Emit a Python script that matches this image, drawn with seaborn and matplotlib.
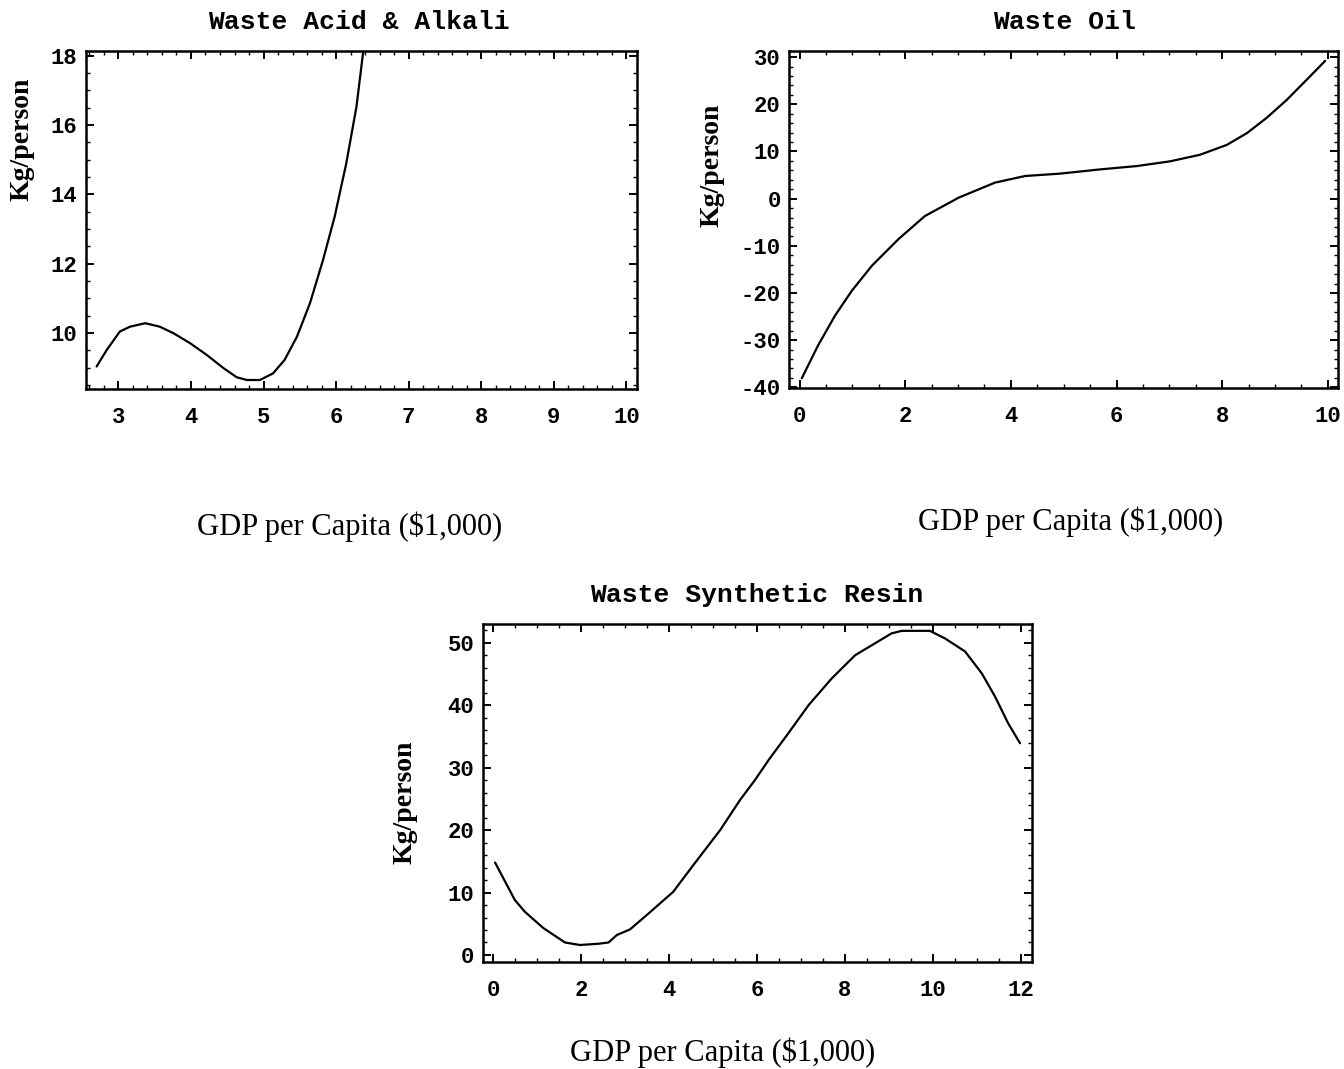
import numpy as np
import pandas as pd
import matplotlib
matplotlib.use("Agg")
import matplotlib.pyplot as plt
from matplotlib.ticker import MultipleLocator, AutoMinorLocator
import seaborn as sns

# values (GDP per capita in $1,000 -> kg/person)
acid_x = [2.70, 2.84, 3.02, 3.16, 3.37, 3.57, 3.76, 3.99, 4.22, 4.45, 4.63, 4.77,
          4.95, 5.13, 5.29, 5.46, 5.64, 5.82, 5.98, 6.14, 6.28, 6.37, 6.42]
acid_y = [9.03, 9.51, 10.04, 10.18, 10.28, 10.18, 9.99, 9.70, 9.36, 8.98, 8.72, 8.64,
          8.64, 8.83, 9.22, 9.89, 10.86, 12.11, 13.36, 14.90, 16.53, 18.07, 18.60]

oil_x = [0.04, 0.35, 0.67, 0.99, 1.37, 1.87, 2.37, 3.01, 3.70, 4.27, 4.93, 5.69,
         6.38, 7.01, 7.58, 8.09, 8.47, 8.84, 9.22, 9.60, 9.95]
oil_y = [-38.1, -31.1, -24.8, -19.5, -14.2, -8.6, -3.7, 0.2, 3.4, 4.8, 5.3, 6.2,
         6.9, 7.9, 9.3, 11.4, 13.9, 17.1, 20.9, 25.2, 29.2]

resin_x = [0.04, 0.49, 0.72, 1.14, 1.63, 1.97, 2.39, 2.62, 2.81, 3.11, 3.49, 4.09,
           4.55, 5.16, 5.61, 5.95, 6.26, 6.71, 7.17, 7.70, 8.23, 8.61, 9.06, 9.29,
           9.93, 10.27, 10.73, 11.11, 11.41, 11.71, 11.98]
resin_y = [14.8, 8.8, 6.9, 4.3, 2.0, 1.6, 1.8, 2.0, 3.2, 4.1, 6.4, 10.1,
           14.4, 20.0, 24.8, 28.0, 31.2, 35.5, 40.0, 44.3, 48.0, 49.6, 51.5, 51.9,
           51.9, 50.7, 48.6, 45.1, 41.4, 37.1, 33.9]

titles = ["Waste Acid & Alkali", "Waste Oil", "Waste Synthetic Resin"]
xlab = "GDP per Capita ($1,000)"
ylab = "Kg/person"

sns.set_style("ticks")
plt.rcParams["axes.unicode_minus"] = False
plt.rcParams["font.family"] = ["Liberation Mono", "DejaVu Sans Mono"]
plt.rcParams["text.color"] = "black"
plt.rcParams["axes.labelcolor"] = "black"
plt.rcParams["xtick.color"] = "black"
plt.rcParams["ytick.color"] = "black"

fig = plt.figure(figsize=(13.44, 10.69), dpi=100)

panels = [
    # data, axes rect, xlim, ylim, x step, y step, title pos, xlabel pos, ylabel pos
    (acid_x, acid_y, [0.0640, 0.6361, 0.4100, 0.3165], (2.554, 10.146), (8.38, 18.15), 1, 2,
     (0.495, 1.085), (0.479, -0.408), (-0.116, 0.739)),
    (oil_x, oil_y, [0.5871, 0.6368, 0.4087, 0.3155], (-0.2, 10.2), (-40.2, 31.3), 2, 10,
     (0.501, 1.086), (0.512, -0.396), (-0.140, 0.662)),
    (resin_x, resin_y, [0.3592, 0.1004, 0.4089, 0.3159], (-0.24, 12.26), (-1.07, 53.0), 2, 10,
     (0.499, 1.086), (0.437, -0.270), (-0.141, 0.473)),
]

for i, (xs, ys, rect, xl, yl, xstep, ystep, tpos, xpos, ypos) in enumerate(panels):
    ax = fig.add_axes(rect)
    df = pd.DataFrame({"gdp": xs, "kg": ys})
    sns.lineplot(data=df, x="gdp", y="kg", ax=ax, color="black", lw=1.6,
                 estimator=None, sort=False)
    ax.set_xlim(*xl)
    ax.set_ylim(*yl)
    ax.xaxis.set_major_locator(MultipleLocator(xstep))
    ax.yaxis.set_major_locator(MultipleLocator(ystep))
    ax.xaxis.set_minor_locator(AutoMinorLocator())
    ax.yaxis.set_minor_locator(AutoMinorLocator())
    ax.tick_params(which="both", direction="in", top=True, right=True, color="black")
    ax.tick_params(which="major", length=6, width=1.4)
    ax.tick_params(which="minor", length=3, width=1.0)
    ax.tick_params(axis="x", which="major", pad=13, labelsize=16, labelcolor="black")
    ax.tick_params(axis="y", which="major", pad=6, labelsize=16, labelcolor="black")
    for lab in ax.get_xticklabels() + ax.get_yticklabels():
        lab.set_fontweight("bold")
    for sp in ax.spines.values():
        sp.set_visible(True)
        sp.set_linewidth(1.8)
        sp.set_color("black")

    ax.text(tpos[0], tpos[1], titles[i], transform=ax.transAxes, ha="center", va="center",
            fontsize=19, fontweight="bold", color="black",
            family=["Liberation Mono", "DejaVu Sans Mono"])
    ax.set_xlabel(xlab, fontsize=22, color="black", family=["Liberation Serif", "DejaVu Serif"])
    ax.set_ylabel(ylab, fontsize=20, fontweight="bold", color="black",
                  family=["Liberation Serif", "DejaVu Serif"])
    ax.xaxis.label.set_va("center")
    ax.yaxis.label.set_va("center")
    ax.xaxis.set_label_coords(*xpos)
    ax.yaxis.set_label_coords(*ypos)

fig.savefig("out.png", dpi=100, facecolor="white")
